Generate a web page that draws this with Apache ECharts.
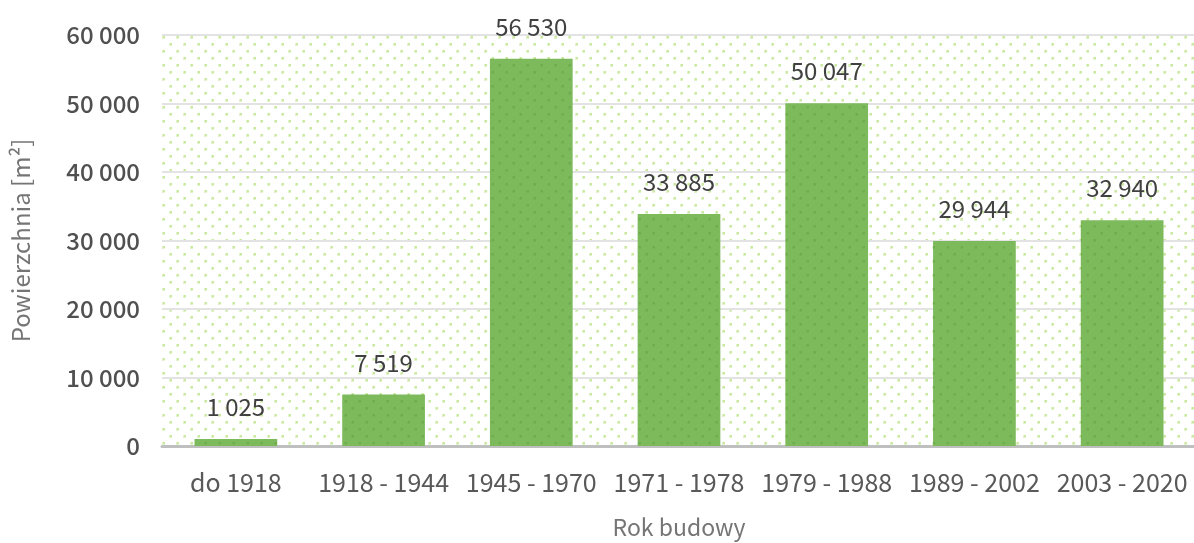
<!DOCTYPE html>
<html>
<head>
<meta charset="utf-8">
<script src="https://cdn.jsdelivr.net/npm/echarts@6/dist/echarts.min.js"></script>
<style>
  html, body { margin: 0; padding: 0; background: #fff; }
  #chart { width: 1194px; height: 543px; }
</style>
</head>
<body>
<div id="chart"></div>
<script>
var categories = ['do 1918', '1918 - 1944', '1945 - 1970', '1971 - 1978', '1979 - 1988', '1989 - 2002', '2003 - 2020'];
var values = [1025, 7519, 56530, 33885, 50047, 29944, 32940];
var yTicks = [0, 10000, 20000, 30000, 40000, 50000, 60000];

// dotted tile, like the excel "dotted" fill (staggered rows)
function dotTile(bg, halo, dot) {
    var c = document.createElement('canvas');
    c.width = 14; c.height = 14;
    var ctx = c.getContext('2d');
    if (bg) { ctx.fillStyle = bg; ctx.fillRect(0, 0, 14, 14); }
    [[1, 1], [8, 8]].forEach(function (p) {
        ctx.fillStyle = halo;
        ctx.fillRect(p[0], p[1], 3, 3);
        ctx.fillStyle = dot;
        ctx.fillRect(p[0] + 1, p[1], 2, 2);
    });
    return c;
}

function fmt(v) {
    return String(v).replace(/\B(?=(\d{3})+(?!\d))/g, ' ');
}

var font = '"Noto Sans CJK JP", "Noto Sans", sans-serif';
var chart = echarts.init(document.getElementById('chart'));
chart.setOption({
    animation: false,
    grid: {
        left: 162, right: -2, top: 35, bottom: 97,
        outerBoundsMode: 'none',
        containLabel: false,
        show: true,
        borderWidth: 0,
        backgroundColor: { image: dotTile(null, '#e2f3cc', '#c9e99e'), repeat: 'repeat' }
    },
    xAxis: {
        type: 'category',
        data: categories,
        name: 'Rok budowy',
        nameLocation: 'middle',
        nameGap: 70,
        nameTextStyle: { fontFamily: font, fontSize: 23, color: '#757575' },
        axisLine: { lineStyle: { color: '#bfbfbf', width: 3 } },
        axisTick: { show: false },
        axisLabel: { interval: 0, fontFamily: font, fontSize: 25, color: '#595959', margin: 24 }
    },
    yAxis: {
        type: 'value',
        min: yTicks[0],
        max: yTicks[yTicks.length - 1],
        interval: 10000,
        name: 'Powierzchnia [m²]',
        nameLocation: 'middle',
        nameGap: 129,
        nameTextStyle: { fontFamily: font, fontSize: 24, color: '#757575' },
        axisLine: { show: false },
        axisTick: { show: false },
        splitLine: { lineStyle: { color: '#e3e3e3', width: 2 } },
        axisLabel: {
            fontFamily: font, fontSize: 24, fontWeight: 500, color: '#505050', margin: 22,
            formatter: function (v) { return fmt(v); }
        }
    },
    series: [{
        type: 'bar',
        data: values,
        barWidth: '56%',
        itemStyle: { color: { image: dotTile('#7dba5c', '#76b455', '#6eac4d'), repeat: 'repeat' } },
        label: {
            show: true,
            position: 'top',
            distance: 20,
            fontFamily: font,
            fontSize: 24,
            color: '#404040',
            formatter: function (p) { return fmt(p.value); }
        }
    }]
});
</script>
</body>
</html>
